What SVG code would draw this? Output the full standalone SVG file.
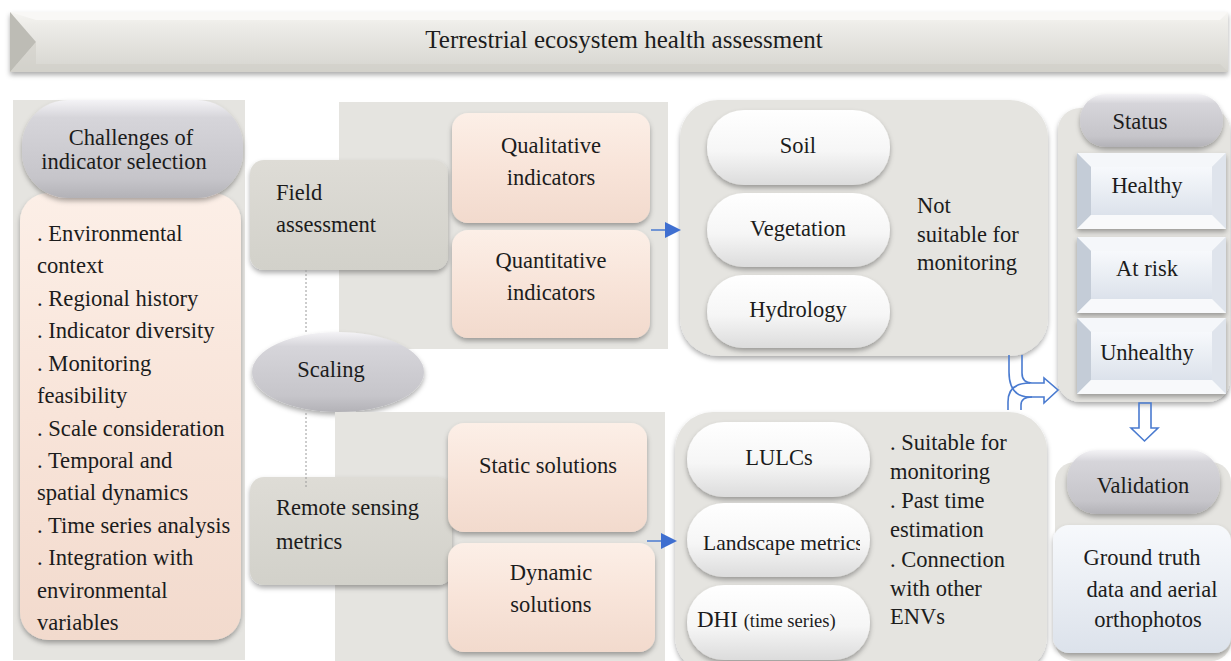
<svg xmlns="http://www.w3.org/2000/svg" xmlns:xlink="http://www.w3.org/1999/xlink" width="1231" height="661" viewBox="0 0 1231 661">
<style>
.t{font-family:'Liberation Serif','Times New Roman','DejaVu Serif',serif;fill:#1c1c1c;font-size:22.5px}
.tm{text-anchor:middle}
.panel{fill:#e5e4e0}
.peach{fill:url(#gPeach);filter:url(#sh)}
.grey{fill:url(#gGrey);filter:url(#sh)}
.white{fill:url(#gWhite);filter:url(#sh)}
.node{fill:url(#gField);filter:url(#sh)}
.conn{fill:none;stroke:#4a7bd0;stroke-width:1.6}
.dash{fill:none;stroke:#9a9a9a;stroke-width:1;stroke-dasharray:2 2}
</style>
<defs>
<filter id="sh" x="-10%" y="-10%" width="120%" height="130%">
<feDropShadow dx="0" dy="3" stdDeviation="2.5" flood-color="#000" flood-opacity="0.32"/>
</filter>
<linearGradient id="gTitle" x1="0" y1="0" x2="0" y2="1">
<stop offset="0" stop-color="#f6f5f2"/><stop offset="0.2" stop-color="#eeede9"/><stop offset="1" stop-color="#d6d5cf"/>
</linearGradient>
<linearGradient id="gGrey" x1="0" y1="0" x2="0" y2="1">
<stop offset="0" stop-color="#f4f3f6"/><stop offset="0.18" stop-color="#d6d5da"/><stop offset="0.8" stop-color="#c6c5ca"/><stop offset="1" stop-color="#b3b2b7"/>
</linearGradient>
<linearGradient id="gWhite" x1="0" y1="0" x2="0" y2="1">
<stop offset="0" stop-color="#ffffff"/><stop offset="0.55" stop-color="#f6f6f6"/><stop offset="1" stop-color="#dcdcdc"/>
</linearGradient>
<linearGradient id="gPeach" x1="0" y1="0" x2="0" y2="1">
<stop offset="0" stop-color="#fcefe7"/><stop offset="0.5" stop-color="#f8e4d9"/><stop offset="1" stop-color="#f2dacd"/>
</linearGradient>
<linearGradient id="gField" x1="0" y1="0" x2="0" y2="1">
<stop offset="0" stop-color="#dedcd6"/><stop offset="1" stop-color="#d2d1ca"/>
</linearGradient>
<linearGradient id="gBlue" x1="0" y1="0" x2="0" y2="1">
<stop offset="0" stop-color="#f7f9fc"/><stop offset="1" stop-color="#dce2eb"/>
</linearGradient>
<g id="bevel">
<rect x="0" y="0" width="149" height="76" fill="#e3e8ef"/>
<polygon points="0,0 149,0 135,14 14,14" fill="#f5f7fa"/>
<polygon points="0,0 14,14 14,62 0,76" fill="#c4ccd7"/>
<polygon points="149,0 149,76 135,62 135,14" fill="#dfe4ec"/>
<polygon points="0,76 14,62 135,62 149,76" fill="#f8f9fb"/>
<rect x="14" y="14" width="121" height="48" fill="url(#gBlue)"/>
</g>
<clipPath id="clipLand"><rect x="687" y="503" width="173" height="74"/></clipPath>
</defs>

<g id="title">
<rect x="10" y="12" width="1218" height="60" fill="url(#gTitle)" filter="url(#sh)"/>
<polygon points="10,12 1228,12 1220,20 36,20" fill="#f9f8f6"/>
<polygon points="10,12 36,42 10,72" fill="#bdbcb5"/>
<polygon points="10,72 36,42 36,64 1220,64 1228,72" fill="#d0cfc8" opacity="0.6"/>
<text class="t tm" x="624" y="48" style="font-size:25px">Terrestrial ecosystem health assessment</text>
</g>

<g id="challenges">
<rect class="panel" x="13" y="100" width="232" height="560"/>
<rect class="peach" x="20" y="193" width="221" height="447" rx="28"/>
<rect class="grey" x="22" y="100" width="221" height="98" rx="46"/>
<text class="t tm" x="131" y="145">Challenges of</text>
<text class="t tm" x="124" y="169">indicator selection</text>
<g class="t" style="font-size:22.6px">
<text x="37" y="241">. Environmental</text>
<text x="37" y="273">context</text>
<text x="37" y="306">. Regional history</text>
<text x="37" y="338">. Indicator diversity</text>
<text x="37" y="371">. Monitoring</text>
<text x="37" y="403">feasibility</text>
<text x="37" y="436">. Scale consideration</text>
<text x="37" y="468">. Temporal and</text>
<text x="37" y="500">spatial dynamics</text>
<text x="37" y="533">. Time series analysis</text>
<text x="37" y="565">. Integration with</text>
<text x="37" y="598">environmental</text>
<text x="37" y="630">variables</text>
</g>
</g>

<g id="field-panel"><rect class="panel" x="339" y="102" width="329" height="247"/></g>
<g id="field-assessment">
<rect class="node" x="250" y="160" width="198" height="110" rx="14"/>
<text class="t" x="276" y="200">Field</text>
<text class="t" x="276" y="232">assessment</text>
</g>
<g id="qualitative">
<rect class="peach" x="452" y="113" width="198" height="110" rx="16"/>
<text class="t tm" x="551" y="153">Qualitative</text>
<text class="t tm" x="551" y="185">indicators</text>
</g>
<g id="quantitative">
<rect class="peach" x="452" y="230" width="198" height="108" rx="16"/>
<text class="t tm" x="551" y="268">Quantitative</text>
<text class="t tm" x="551" y="300">indicators</text>
</g>

<g id="scaling">
<ellipse cx="338" cy="372" rx="86" ry="40" fill="url(#gGrey)" filter="url(#sh)"/>
<text class="t tm" x="331" y="377">Scaling</text>
</g>

<g id="remote-panel"><rect class="panel" x="335" y="412" width="330" height="249"/></g>
<g id="remote-sensing">
<rect class="node" x="250" y="477" width="202" height="108" rx="14"/>
<text class="t" x="276" y="515">Remote sensing</text>
<text class="t" x="276" y="549">metrics</text>
</g>
<g id="static">
<rect class="peach" x="448" y="423" width="199" height="109" rx="16"/>
<text class="t tm" x="548" y="473">Static solutions</text>
</g>
<g id="dynamic">
<rect class="peach" x="448" y="543" width="207" height="109" rx="16"/>
<text class="t tm" x="551" y="580">Dynamic</text>
<text class="t tm" x="551" y="612">solutions</text>
</g>

<g id="field-indicators">
<rect class="panel" x="680" y="100" width="368" height="256" rx="38" filter="url(#sh)"/>
<g id="soil"><rect class="white" x="707" y="110" width="183" height="75" rx="37"/>
<text class="t tm" x="798" y="153">Soil</text></g>
<g id="vegetation"><rect class="white" x="707" y="193" width="183" height="74" rx="37"/>
<text class="t tm" x="798" y="236">Vegetation</text></g>
<g id="hydrology"><rect class="white" x="707" y="275" width="183" height="73" rx="36"/>
<text class="t tm" x="798" y="317">Hydrology</text></g>
<text class="t" x="917" y="213">Not</text>
<text class="t" x="917" y="242">suitable for</text>
<text class="t" x="917" y="270">monitoring</text>
</g>

<g id="rs-indicators">
<rect class="panel" x="675" y="412" width="372" height="262" rx="38" filter="url(#sh)"/>
<g id="lulcs"><rect class="white" x="687" y="422" width="183" height="75" rx="37"/>
<text class="t tm" x="779" y="465">LULCs</text></g>
<g id="landscape"><rect class="white" x="687" y="503" width="183" height="74" rx="37"/>
<text class="t" x="703" y="550" clip-path="url(#clipLand)" style="font-size:21.5px">Landscape metrics</text></g>
<g id="dhi"><rect class="white" x="687" y="585" width="183" height="75" rx="37"/>
<text class="t" x="697" y="627" style="font-size:23px">DHI <tspan style="font-size:18.5px">(time series)</tspan></text></g>
<text class="t" x="890" y="450">. Suitable for</text>
<text class="t" x="890" y="479">monitoring</text>
<text class="t" x="890" y="508">. Past time</text>
<text class="t" x="890" y="537">estimation</text>
<text class="t" x="890" y="567">. Connection</text>
<text class="t" x="890" y="596">with other</text>
<text class="t" x="890" y="624">ENVs</text>
</g>

<g id="status">
<rect class="panel" x="1058" y="108" width="172" height="294" rx="22" filter="url(#sh)"/>
<rect class="grey" x="1080" y="94" width="143" height="53" rx="26"/>
<text class="t tm" x="1140" y="129">Status</text>
<g filter="url(#sh)"><use xlink:href="#bevel" x="1077" y="153"/></g>
<text class="t tm" x="1147" y="193">Healthy</text>
<g filter="url(#sh)"><use xlink:href="#bevel" x="1077" y="237"/></g>
<text class="t tm" x="1147" y="276">At risk</text>
<g filter="url(#sh)"><use xlink:href="#bevel" x="1077" y="318"/></g>
<text class="t tm" x="1147" y="360">Unhealthy</text>
</g>

<g id="validation">
<rect class="panel" x="1055" y="462" width="176" height="199" rx="20"/>
<rect class="grey" x="1067" y="450" width="153" height="64" rx="30"/>
<text class="t tm" x="1143" y="493">Validation</text>
<rect x="1053" y="525" width="178" height="128" rx="16" fill="url(#gBlue)" filter="url(#sh)"/>
<text class="t tm" x="1142" y="565">Ground truth</text>
<text class="t tm" x="1152" y="597">data and aerial</text>
<text class="t tm" x="1148" y="627">orthophotos</text>
</g>

<g id="connectors">
<line class="dash" x1="306" y1="270" x2="306" y2="332"/>
<line class="dash" x1="306" y1="413" x2="306" y2="487"/>
<line x1="651" y1="230" x2="667" y2="230" stroke="#4a7bd0" stroke-width="1.5"/>
<polygon points="665,222 681,230 665,238" fill="#3f6fd0"/>
<line x1="647" y1="541" x2="663" y2="541" stroke="#4a7bd0" stroke-width="1.5"/>
<polygon points="661,533 677,541 661,549" fill="#3f6fd0"/>
<path class="conn" d="M1009,355 V372 Q1009,397 1030,397 H1044 V403 L1058,390 L1044,378 V383 H1032 Q1022,383 1022,373 V355"/>
<path class="conn" d="M1008,410 V402 Q1008,383 1030,383"/>
<path class="conn" d="M1021,410 V405 Q1021,397 1032,397"/>
<path class="conn" d="M1139,403 H1151 V428 H1158 L1144.5,441 L1131,428 H1139 Z" fill="#ffffff"/>
</g>
</svg>
